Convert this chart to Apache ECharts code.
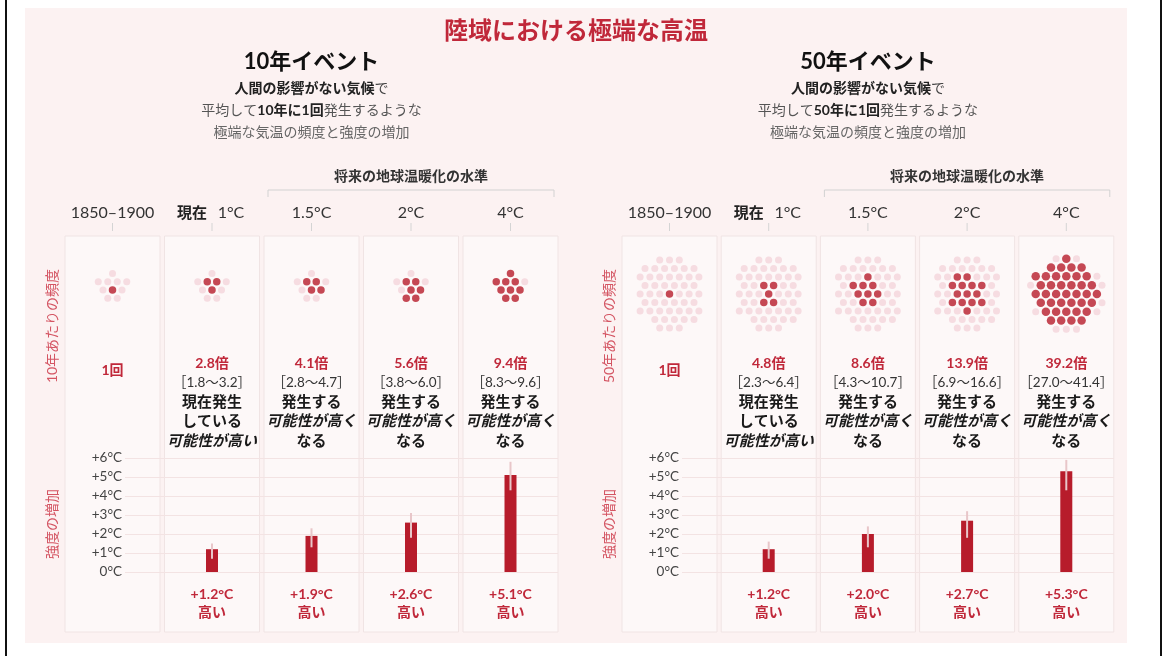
<!DOCTYPE html>
<html>
<head>
<meta charset="utf-8">
<script src="https://cdn.jsdelivr.net/npm/echarts@6/dist/echarts.min.js"></script>
<style>
  html, body { margin: 0; padding: 0; background: #fff; }
  #chart { width: 1168px; height: 656px; }
</style>
</head>
<body>
<div id="chart"></div>
<script>
// column headings (warming levels)
const levels = ['1850–1900', '1°C', '1.5°C', '2°C', '4°C'];
const likelyNow = ['現在発生', 'している', '可能性が高い'];
const likelyFuture = ['発生する', '可能性が高く', 'なる'];

// 10-year event
const times10 = [1, 2.8, 4.1, 5.6, 9.4];
const range10 = [null, [1.8, 3.2], [2.8, 4.7], [3.8, 6.0], [8.3, 9.6]];
const warm10 = [null, 1.2, 1.9, 2.6, 5.1];
const low10 = [null, 0.7, 1.3, 1.8, 4.3];
const high10 = [null, 1.5, 2.3, 3.1, 5.8];

// 50-year event
const times50 = [1, 4.8, 8.6, 13.9, 39.2];
const range50 = [null, [2.3, 6.4], [4.3, 10.7], [6.9, 16.6], [27.0, 41.4]];
const warm50 = [null, 1.2, 2.0, 2.7, 5.3];
const low50 = [null, 0.7, 1.3, 1.8, 4.3];
const high50 = [null, 1.6, 2.4, 3.2, 5.9];

const FONT = 'Lato, "Noto Sans CJK JP", sans-serif';
const RED = '#c0283a';
const BAR = '#b71c2b';
const PINK = '#f4d4db';
const W = 95, PT = 236, PB = 632;

const events = [
  { period: 10, x0: 65, step: 99.5, dotY: 290, gap: 9.5, times: times10, range: range10, warm: warm10, low: low10, high: high10 },
  { period: 50, x0: 622, step: 99.2, dotY: 294, gap: 9.8, times: times50, range: range50, warm: warm50, low: low50, high: high50 }
];

function text(x, y, str, st, extra) {
  return Object.assign({
    type: 'text', x: x, y: y, z: 10,
    style: Object.assign({
      text: str, fontFamily: FONT, fontSize: 14, fill: '#222',
      align: 'center', verticalAlign: 'middle', textAlign: 'center', textVerticalAlign: 'middle'
    }, st)
  }, extra || {});
}

// hexagonal packing, nearest to centre first
function hexCluster(n, s) {
  const pts = [];
  for (let j = -9; j <= 9; j++) {
    for (let i = -9; i <= 9; i++) {
      pts.push([(i + (j & 1) * 0.5) * s, j * s * Math.sqrt(3) / 2]);
    }
  }
  pts.sort((a, b) => (a[0] * a[0] + a[1] * a[1]) - (b[0] * b[0] + b[1] * b[1]) ||
    Math.atan2(a[1], a[0]) - Math.atan2(b[1], b[0]));
  return pts.slice(0, n);
}

const grids = [], xAxes = [], yAxes = [], series = [], gfx = [];

gfx.push({ type: 'rect', z: -10, shape: { x: 25, y: 8, width: 1102, height: 635 }, style: { fill: '#fcf2f2' } });
gfx.push({ type: 'line', z: 10, shape: { x1: 6, y1: 0, x2: 6, y2: 656 }, style: { stroke: '#111', lineWidth: 2 } });
gfx.push({ type: 'line', z: 10, shape: { x1: 1161, y1: 0, x2: 1161, y2: 656 }, style: { stroke: '#111', lineWidth: 2 } });
gfx.push(text(576, 31, '陸域における極端な高温', { fontSize: 24, fontWeight: 'bold', fill: RED }));

events.forEach(function (e) {
  const cols = [0, 1, 2, 3, 4].map(i => ({ left: e.x0 + i * e.step, cx: e.x0 + i * e.step + W / 2 }));
  const blockC = (cols[0].left + cols[4].left + W) / 2;

  gfx.push(text(blockC, 62, e.period + '年イベント', { fontSize: 22, fontWeight: 'bold', fill: '#111' }));
  gfx.push(text(blockC, 88, '{b|人間の影響がない気候}{n|で}', {
    rich: {
      b: { fontFamily: FONT, fontSize: 14, fontWeight: 'bold', fill: '#222' },
      n: { fontFamily: FONT, fontSize: 14, fill: '#444' }
    }
  }));
  gfx.push(text(blockC, 110, '{n|平均して}{b|' + e.period + '年に1回}{n|発生するような}', {
    rich: {
      b: { fontFamily: FONT, fontSize: 14, fontWeight: 'bold', fill: '#222' },
      n: { fontFamily: FONT, fontSize: 14, fill: '#555' }
    }
  }));
  gfx.push(text(blockC, 132, '極端な気温の頻度と強度の増加', { fill: '#666' }));

  // bracket over future levels
  const bl = cols[2].left + 4, br = cols[4].left + W - 4;
  gfx.push({ type: 'polyline', z: 10, shape: { points: [[bl, 197], [bl, 190], [br, 190], [br, 197]] }, style: { stroke: '#d2d2d2', lineWidth: 1, fill: null } });
  gfx.push(text((bl + br) / 2, 176, '将来の地球温暖化の水準', { fontWeight: 'bold', fill: '#333' }));

  // column headings + ticks
  cols.forEach(function (c, i) {
    if (i === 1) {
      gfx.push(text(c.cx - 20, 213, '現在', { fontSize: 15, fontWeight: 'bold', fill: '#222' }));
      gfx.push(text(c.cx + 19, 213, levels[i], { fontSize: 16, fill: '#333' }));
    } else {
      gfx.push(text(c.cx, 213, levels[i], { fontSize: 16, fill: '#333' }));
    }
    gfx.push({ type: 'line', z: 10, shape: { x1: c.cx, y1: 223, x2: c.cx, y2: 231 }, style: { stroke: '#d4d4d4', lineWidth: 1 } });
  });

  // side labels
  gfx.push(text(cols[0].left - 13, 326, e.period + '年あたりの頻度', { fontSize: 14, fill: '#d45563' }, { rotation: Math.PI / 2 }));
  gfx.push(text(cols[0].left - 13, 524, '強度の増加', { fontSize: 14, fill: '#d45563' }, { rotation: Math.PI / 2 }));

  // panels with dot clusters and frequency text
  cols.forEach(function (c, i) {
    const g = grids.length;
    grids.push({ left: c.left, top: PT, width: W, height: PB - PT, show: true,
      backgroundColor: '#fdf8f8', borderColor: '#f0e4e4', borderWidth: 1 });
    xAxes.push({ gridIndex: g, type: 'value', min: -W / 2, max: W / 2, show: false });
    yAxes.push({ gridIndex: g, type: 'value', inverse: true, min: PT - e.dotY, max: PB - e.dotY, show: false });

    const big = e.period === 50 && i === 4;
    const pts = hexCluster(e.period, big ? e.gap + 0.4 : e.gap);
    const nRed = Math.round(e.times[i]);
    series.push({ type: 'scatter', xAxisIndex: g, yAxisIndex: g, silent: true,
      symbolSize: 7, itemStyle: { color: PINK }, data: pts.slice(nRed) });
    series.push({ type: 'scatter', xAxisIndex: g, yAxisIndex: g, silent: true,
      symbolSize: big ? 8.5 : 7.5, itemStyle: { color: BAR }, data: pts.slice(0, nRed) });

    if (i === 0) {
      gfx.push(text(c.cx, 370, '1回', { fontSize: 14, fontWeight: 'bold', fill: RED }));
    } else {
      gfx.push(text(c.cx, 363, e.times[i].toFixed(1) + '倍', { fontSize: 14, fontWeight: 'bold', fill: RED }));
      gfx.push(text(c.cx, 383, '［' + e.range[i][0].toFixed(1) + '〜' + e.range[i][1].toFixed(1) + '］', { fontSize: 13.5, fill: '#333' }));
      const lines = i === 1 ? likelyNow : likelyFuture;
      [402, 421, 441].forEach(function (y, k) {
        const it = lines[k].indexOf('可能性') >= 0;
        gfx.push(text(c.cx, y, lines[k], { fontSize: 15, fontWeight: 'bold', fontStyle: it ? 'italic' : 'normal', fill: '#1a1a1a' }));
      });
    }
  });

  // intensity bars
  const gLeft = cols[0].left + 60, gRight = cols[4].left + W;
  const gb = grids.length;
  grids.push({ left: gLeft, top: 572 - 6 * 19, width: gRight - gLeft, height: 6 * 19 });
  xAxes.push({ gridIndex: gb, type: 'value', show: false,
    min: (gLeft - cols[0].cx) / e.step, max: (gRight - cols[0].cx) / e.step });
  yAxes.push({ gridIndex: gb, type: 'value', min: 0, max: 6, interval: 1, z: 1,
    axisLine: { show: false }, axisTick: { show: false },
    axisLabel: { margin: 3, fontFamily: FONT, fontSize: 13.5, color: '#444',
      formatter: v => (v === 0 ? '0°C' : '+' + v + '°C') },
    splitLine: { lineStyle: { color: '#f3e3e3', width: 1 } } });

  const barData = [], errData = [];
  e.warm.forEach(function (v, i) {
    if (v == null) return;
    barData.push([i, v]);
    errData.push([i, e.low[i], e.high[i]]);
  });
  series.push({ type: 'bar', xAxisIndex: gb, yAxisIndex: gb, barWidth: 12, silent: true,
    itemStyle: { color: BAR }, data: barData,
    label: { show: true, position: 'bottom', distance: 13,
      formatter: p => '{v|+' + p.value[1].toFixed(1) + '°C}\n{t|高い}',
      rich: {
        v: { fontFamily: FONT, fontSize: 14, fontWeight: 'bold', color: RED, lineHeight: 18 },
        t: { fontFamily: FONT, fontSize: 14, fontWeight: 'bold', color: RED, lineHeight: 18 }
      } } });
  series.push({ type: 'custom', xAxisIndex: gb, yAxisIndex: gb, z: 3, silent: true,
    encode: { x: 0, y: [1, 2] }, data: errData,
    renderItem: function (params, api) {
      const lo = api.coord([api.value(0), api.value(1)]);
      const hi = api.coord([api.value(0), api.value(2)]);
      return { type: 'line', shape: { x1: lo[0], y1: lo[1], x2: hi[0], y2: hi[1] },
        style: { stroke: '#e8c6c9', lineWidth: 2 } };
    } });
});

const chart = echarts.init(document.getElementById('chart'));
chart.setOption({
  animation: false,
  backgroundColor: '#fff',
  grid: grids,
  xAxis: xAxes,
  yAxis: yAxes,
  series: series,
  graphic: { elements: gfx }
});
</script>
</body>
</html>
